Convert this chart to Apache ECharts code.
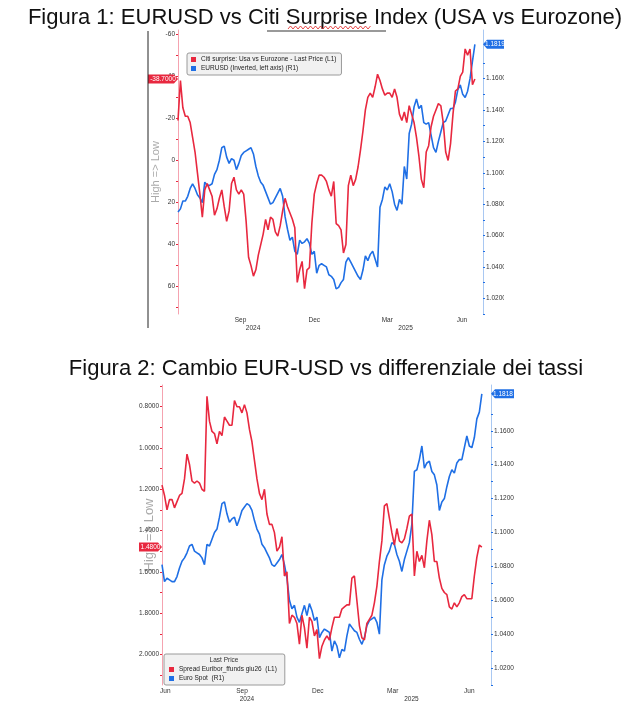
<!DOCTYPE html>
<html>
<head>
<meta charset="utf-8">
<script src="https://cdn.jsdelivr.net/npm/echarts@6/dist/echarts.min.js"></script>
<style>
  html, body { margin: 0; padding: 0; background: #fff; }
  #main { width: 630px; height: 718px; }
</style>
</head>
<body>
<div id="main"></div>
<script>
// readings were taken every 3 calendar days off the two Bloomberg screenshots
const STEP = 3

// Figura 1 (start 30 Jun 2024)
const start1 = '2024-06-30'
const citiSurprise = [
  -19, -38, -25, -21, -21, -18, -11, -4, 6, 16,
  27, 14, 11, 14, 17, 26, 23, 18, 14, 22,
  29, 24, 11, 8, 14, 16, 14, 16, 29, 46,
  50, 55, 52, 45, 40, 35, 28, 33, 27, 28,
  34, 36, 31, 24, 18, 22, 25, 28, 32, 58,
  52, 48, 61, 52, 51, 30, 16, 11, 7, 7,
  8, 10, 14, 17, 10, 30, 31, 33, 44, 40,
  12, 7, 12, 9, 3, -5, -14, -24, -30, -32,
  -30, -35, -41, -38, -34, -31, -32, -32, -30, -34,
  -30, -22, -19, -23, -18, -26, -22, -18, -11, -2,
  9, 13, -4, -7, -16, -21, -24, -27, -26, -18,
  -4, 0, -8, -22, -33, -34, -40, -42, -53, -50,
  -53, -36, -38.7
]
const eurusd1 = [
  1.075, 1.077, 1.082, 1.082, 1.085, 1.090, 1.093, 1.090, 1.086, 1.084,
  1.081, 1.094, 1.092, 1.092, 1.093, 1.099, 1.102, 1.108, 1.116, 1.117,
  1.110, 1.106, 1.109, 1.108, 1.102, 1.106, 1.111, 1.113, 1.114, 1.115,
  1.116, 1.112, 1.104, 1.098, 1.094, 1.092, 1.088, 1.084, 1.080, 1.081,
  1.084, 1.087, 1.090, 1.085, 1.072, 1.064, 1.057, 1.059, 1.050, 1.048,
  1.057, 1.055, 1.056, 1.058, 1.055, 1.048, 1.050, 1.036, 1.041, 1.042,
  1.041, 1.040, 1.035, 1.034, 1.032, 1.026, 1.027, 1.030, 1.032, 1.043,
  1.046, 1.043, 1.040, 1.037, 1.034, 1.032, 1.038, 1.047, 1.044, 1.048,
  1.050, 1.045, 1.040, 1.078, 1.083, 1.091, 1.089, 1.093, 1.088, 1.080,
  1.076, 1.083, 1.080, 1.104, 1.096, 1.125, 1.131, 1.142, 1.147, 1.141,
  1.143, 1.132, 1.131, 1.132, 1.124, 1.116, 1.113, 1.120, 1.126, 1.132,
  1.133, 1.137, 1.141, 1.141, 1.145, 1.153, 1.156, 1.150, 1.148, 1.152,
  1.160, 1.171, 1.1819
]

// Figura 2 (start 11 Jun 2024)
const start2 = '2024-06-11'
const spreadEuribor = [
  1.18, 1.23, 1.30, 1.25, 1.25, 1.29, 1.26, 1.23, 1.22, 1.15,
  1.03, 1.08, 1.16, 1.17, 1.16, 1.17, 1.20, 1.21, 0.75, 0.87,
  0.92, 0.93, 0.98, 0.92, 0.94, 0.85, 0.87, 0.89, 0.89, 0.77,
  0.80, 0.80, 0.83, 0.79, 0.83, 0.91, 0.97, 1.06, 1.15, 1.22,
  1.25, 1.20, 1.32, 1.37, 1.37, 1.41, 1.50, 1.48, 1.43, 1.62,
  1.60, 1.85, 1.81, 1.82, 1.85, 1.95, 1.81, 1.87, 1.97, 1.82,
  1.84, 1.91, 1.88, 2.02, 1.96, 1.93, 1.91, 1.93, 1.87, 1.82,
  1.82, 1.82, 1.78, 1.77, 1.76, 1.76, 1.63, 1.62, 1.74, 1.86,
  1.92, 1.93, 1.85, 1.83, 1.81, 1.75, 1.67, 1.55, 1.45, 1.28,
  1.27, 1.34, 1.41, 1.47, 1.39, 1.45, 1.46, 1.44, 1.39, 1.33,
  1.32, 1.62, 1.50, 1.55, 1.52, 1.58, 1.45, 1.35, 1.42, 1.55,
  1.55, 1.63, 1.68, 1.70, 1.71, 1.77, 1.78, 1.75, 1.77, 1.75,
  1.72, 1.71, 1.73, 1.73, 1.73, 1.62, 1.53, 1.47, 1.48
]
const euroSpot = [
  1.081, 1.071, 1.073, 1.072, 1.071, 1.071, 1.074, 1.079, 1.083, 1.085,
  1.088, 1.092, 1.093, 1.089, 1.088, 1.087, 1.085, 1.081, 1.093, 1.092,
  1.096, 1.100, 1.102, 1.109, 1.117, 1.118, 1.111, 1.106, 1.108, 1.109,
  1.104, 1.108, 1.113, 1.115, 1.117, 1.116, 1.113, 1.107, 1.102, 1.099,
  1.093, 1.091, 1.088, 1.085, 1.081, 1.080, 1.082, 1.084, 1.087, 1.081,
  1.073, 1.060, 1.055, 1.057, 1.050, 1.047, 1.052, 1.057, 1.051, 1.058,
  1.054, 1.048, 1.050, 1.038, 1.041, 1.043, 1.042, 1.041, 1.030, 1.036,
  1.033, 1.026, 1.031, 1.030, 1.039, 1.046, 1.044, 1.042, 1.041, 1.037,
  1.034, 1.038, 1.045, 1.048, 1.049, 1.050, 1.047, 1.040, 1.072, 1.081,
  1.086, 1.089, 1.094, 1.093, 1.087, 1.083, 1.077, 1.084, 1.089, 1.094,
  1.105, 1.136, 1.137, 1.143, 1.151, 1.138, 1.141, 1.142, 1.136, 1.134,
  1.128, 1.113, 1.118, 1.120, 1.127, 1.133, 1.137, 1.135, 1.141, 1.143,
  1.143, 1.150, 1.157, 1.151, 1.150, 1.156, 1.167, 1.171, 1.1818
]

const monthTicks1 = ['2024-09-15', '2024-12-15', '2025-03-15', '2025-06-15']
const monthTicks2 = ['2024-06-15', '2024-09-15', '2024-12-15', '2025-03-15', '2025-06-15']
const range1 = ['2024-06-30', '2025-07-11']
const range2 = ['2024-06-11', '2025-07-11']

const citiTicks = [-60, -40, -20, 0, 20, 40, 60]
const fxTicks = [1.02, 1.04, 1.06, 1.08, 1.10, 1.12, 1.14, 1.16]
const spreadTicks = [0.8, 1.0, 1.2, 1.4, 1.6, 1.8, 2.0]

const MONTHS = ['Jan', 'Feb', 'Mar', 'Apr', 'May', 'Jun', 'Jul', 'Aug', 'Sep', 'Oct', 'Nov', 'Dec']
const DAY = 86400000
const RED = '#e8283f'
const BLUE = '#1f6fe5'
const FONT = "'Liberation Sans', Arial, sans-serif"

const day = (s) => {
  const [y, m, d] = s.split('-').map(Number)
  return new Date(y, m - 1, d).getTime()
}
const toPoints = (start, values) => {
  const t0 = day(start)
  return values.map((v, i) => [t0 + i * STEP * DAY, v])
}
// half steps between labelled ticks
const withMinor = (ticks) => {
  const out = []
  ticks.forEach((t, i) => {
    out.push(t)
    if (i < ticks.length - 1) out.push((t + ticks[i + 1]) / 2)
  })
  out.unshift(ticks[0] - (ticks[1] - ticks[0]) / 2)
  out.push(ticks[ticks.length - 1] + (ticks[1] - ticks[0]) / 2)
  return out
}
// the year label sits in the middle of the part of that year that is shown
const yearCentres = (range) => {
  const a = day(range[0])
  const b = day(range[1])
  const out = []
  for (let y = new Date(a).getFullYear(); y <= new Date(b).getFullYear(); y++) {
    const s = Math.max(a, new Date(y, 0, 1).getTime())
    const e = Math.min(b, new Date(y + 1, 0, 1).getTime())
    if (e > s) out.push((s + e) / 2)
  }
  return out
}

const smallText = { fontSize: 6.5, color: '#333', fontFamily: FONT }

// x is a plain value axis holding timestamps, so custom label positions work
const monthAxis = (grid, range, ticks) => ({
  gridIndex: grid,
  type: 'value',
  min: day(range[0]),
  max: day(range[1]),
  axisLine: { show: false },
  axisTick: { show: false },
  splitLine: { show: false },
  axisLabel: {
    ...smallText,
    margin: 3,
    customValues: ticks.map(day),
    formatter: (v) => MONTHS[new Date(v).getMonth()]
  }
})
const yearAxis = (grid, range, offset) => ({
  gridIndex: grid,
  type: 'value',
  position: 'bottom',
  offset: offset,
  min: day(range[0]),
  max: day(range[1]),
  axisLine: { show: false },
  axisTick: { show: false },
  splitLine: { show: false },
  axisLabel: {
    ...smallText,
    margin: 3,
    customValues: yearCentres(range),
    formatter: (v) => String(new Date(v).getFullYear())
  }
})
const valueAxis = (grid, side, min, max, ticks, color, lineColor, fmt, extra) => ({
  gridIndex: grid,
  type: 'value',
  position: side,
  min: min,
  max: max,
  splitLine: { show: false },
  axisLine: { show: true, lineStyle: { color: lineColor, width: 1 } },
  axisTick: { show: true, length: 2, customValues: withMinor(ticks), lineStyle: { color: color } },
  axisLabel: { ...smallText, margin: 3, customValues: ticks, formatter: fmt },
  ...extra
})

// Bloomberg style last-value tag sitting on the axis
const lastTag = (xVal, values, color, side, w) => {
  const last = values[values.length - 1]
  const path = side === 'left'
    ? `path://M0,0 L${w - 4},0 L${w},4.5 L${w - 4},9 L0,9 Z`
    : `path://M4,0 L${w},0 L${w},9 L4,9 L0,4.5 Z`
  return {
    symbol: path,
    symbolSize: [w, 9],
    symbolOffset: side === 'left' ? [-w / 2, 0] : [w / 2, 0],
    symbolKeepAspect: false,
    itemStyle: { color: color },
    label: {
      show: true,
      color: '#fff',
      fontSize: 6.5,
      fontFamily: FONT,
      formatter: () => last.toFixed(4)
    },
    z: 20,
    data: [{ coord: [xVal, last], value: last }]
  }
}

const lineSeries = (name, x, y, start, values, color, tag) => ({
  name: name,
  type: 'line',
  xAxisIndex: x,
  yAxisIndex: y,
  data: toPoints(start, values),
  showSymbol: false,
  lineStyle: { color: color, width: 1.6 },
  itemStyle: { color: color },
  emphasis: { disabled: true },
  markPoint: tag
})

const names = {
  citi: 'Citi surprise: Usa vs Eurozone - Last Price (L1)',
  fx1: 'EURUSD (Inverted, left axis) (R1)',
  spread: 'Spread Euribor_ffunds giu26  (L1)',
  fx2: 'Euro Spot  (R1)'
}

const legendBox = {
  orient: 'vertical',
  icon: 'rect',
  itemWidth: 5,
  itemHeight: 5,
  itemGap: 2,
  backgroundColor: '#f1f1f1',
  borderColor: '#9a9a9a',
  borderWidth: 1,
  borderRadius: 2,
  textStyle: { fontSize: 6.5, color: '#222', fontFamily: FONT },
  selectedMode: false
}

// marks outside the cropped screenshots (page border, spell-check squiggle)
const squiggle = []
for (let x = 288, i = 0; x <= 372; x += 2.5, i++) squiggle.push([x, i % 2 ? 26 : 29])

const titleStyle = { fontSize: 22, fontWeight: 'normal', color: '#111', fontFamily: FONT }

const chart = echarts.init(document.getElementById('main'), null, { renderer: 'canvas' })
chart.setOption({
  animation: false,
  backgroundColor: '#fff',
  title: [
    {
      text: 'Figura 1: EURUSD vs Citi Surprise Index (USA vs Eurozone)',
      left: 325, top: 7, padding: 0, textAlign: 'center',
      textStyle: titleStyle
    },
    {
      text: 'Figura 2: Cambio EUR-USD vs differenziale dei tassi',
      left: 326, top: 358, padding: 0, textAlign: 'center',
      textStyle: titleStyle
    },
    {
      text: 'Last Price',
      left: 224, top: 657, padding: 0, textAlign: 'center', z: 20,
      textStyle: { fontSize: 6.5, fontWeight: 'normal', color: '#333', fontFamily: FONT }
    }
  ],
  grid: [
    { left: 178, top: 30, width: 305, height: 284, outerBoundsMode: 'none' },
    { left: 162, top: 385, width: 329, height: 300, outerBoundsMode: 'none' }
  ],
  legend: [
    {
      ...legendBox,
      left: 187, top: 53,
      padding: [3, 5, 3, 4],
      data: [names.citi, names.fx1]
    },
    {
      ...legendBox,
      left: 164, top: 654,
      padding: [12, 8, 3, 5],
      data: [names.spread, names.fx2]
    }
  ],
  xAxis: [
    monthAxis(0, range1, monthTicks1),
    yearAxis(0, range1, 8),
    monthAxis(1, range2, monthTicks2),
    yearAxis(1, range2, 7.5)
  ],
  yAxis: [
    valueAxis(0, 'left', -62, 73, citiTicks, RED, '#f5a3b0', (v) => String(v), {
      inverse: true,
      name: 'High => Low',
      nameLocation: 'middle',
      nameGap: 17,
      nameRotate: 90,
      nameMoveOverlap: false,
      nameTextStyle: { color: '#aaaaaa', fontSize: 11, fontFamily: FONT }
    }),
    valueAxis(0, 'right', 1.010, 1.191, fxTicks, BLUE, '#a9c8f2', (v) => v.toFixed(4), {}),
    valueAxis(1, 'left', 0.695, 2.148, spreadTicks, RED, '#f5a3b0', (v) => v.toFixed(4), {
      inverse: true,
      name: 'High => Low',
      nameLocation: 'middle',
      nameGap: 6,
      nameRotate: 90,
      nameMoveOverlap: false,
      nameTextStyle: { color: '#aaaaaa', fontSize: 13, fontFamily: FONT }
    }),
    valueAxis(1, 'right', 1.010, 1.187, fxTicks, BLUE, '#a9c8f2', (v) => v.toFixed(4), {})
  ],
  series: [
    lineSeries(names.fx1, 0, 1, start1, eurusd1, BLUE, lastTag(day(range1[1]), eurusd1, BLUE, 'right', 24)),
    lineSeries(names.citi, 0, 0, start1, citiSurprise, RED, lastTag(day(range1[0]), citiSurprise, RED, 'left', 30)),
    lineSeries(names.fx2, 2, 3, start2, euroSpot, BLUE, lastTag(day(range2[1]), euroSpot, BLUE, 'right', 24)),
    lineSeries(names.spread, 2, 2, start2, spreadEuribor, RED, lastTag(day(range2[0]), spreadEuribor, RED, 'left', 23))
  ],
  graphic: [
    // the screenshots are cropped on the right
    { type: 'rect', shape: { x: 504, y: 36, width: 126, height: 298 }, style: { fill: '#fff' }, z: 100 },
    { type: 'rect', shape: { x: 514, y: 386, width: 116, height: 318 }, style: { fill: '#fff' }, z: 100 },
    { type: 'line', shape: { x1: 148, y1: 31, x2: 148, y2: 328 }, style: { stroke: '#222', lineWidth: 1 }, z: 100 },
    { type: 'line', shape: { x1: 267, y1: 31, x2: 386, y2: 31 }, style: { stroke: '#777', lineWidth: 1.5 }, z: 100 },
    { type: 'polyline', shape: { points: squiggle }, style: { stroke: '#e02020', lineWidth: 0.8, fill: null }, z: 100 }
  ]
})
</script>
</body>
</html>
